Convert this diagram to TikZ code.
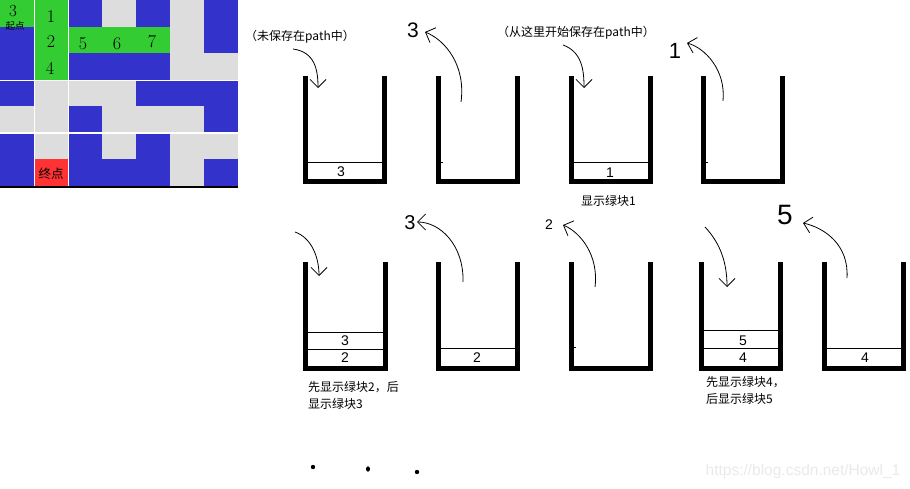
\documentclass[tikz,border=0pt]{standalone}
\usepackage{fontspec}
\newfontfamily\cjk{Noto Sans CJK SC}
\newfontfamily\hand{Liberation Sans}
\usetikzlibrary{arrows.meta}
\definecolor{cg}{HTML}{33CC33}
\definecolor{cb}{HTML}{3333CC}
\definecolor{cw}{HTML}{DDDDDD}
\definecolor{cr}{HTML}{FF3333}
\definecolor{wmark}{HTML}{EAEAEA}
\begin{document}
\begin{tikzpicture}[x=1pt,y=-1pt,
  stk/.style={minimum width=79pt,minimum height=105.5pt,inner sep=0pt,draw=none},
  wall/.style={line width=5pt,line cap=butt,line join=miter},
  slot/.style={line width=0.8pt},
  gnum/.style={inner sep=0pt,font=\fontsize{18}{18}\selectfont},
  hnum/.style={inner sep=0pt,font=\hand\fontsize{14}{14}\selectfont},
  cjklabel/.style={inner sep=0pt,font=\cjk\fontsize{12}{17}\selectfont},
  harrow/.style={line width=0.8pt,-{Straight Barb[length=8pt,width=16pt,line width=0.8pt]}}]
\useasboundingbox (0,0) rectangle (910,489);
\fill[white] (0,0) rectangle (910,489);
% ---- maze grid ----
\foreach \r/\row in {0/{cg,cg,cb,cw,cb,cw,cb},1/{cb,cg,cg,cg,cg,cw,cb},2/{cb,cg,cb,cb,cb,cw,cw},3/{cb,cw,cw,cw,cb,cb,cb},4/{cw,cw,cb,cw,cw,cw,cb},5/{cb,cw,cb,cw,cb,cw,cw},6/{cb,cr,cb,cb,cb,cw,cb}}{
  \foreach \c [count=\i from 0] in \row {
    \fill[\c] (34*\i,26.57*\r) rectangle (34*\i+34,26.57*\r+26.57);
  }
}
\draw[white,line width=1.5pt] (34.7,0) -- (34.7,186) (68.7,0) -- (68.7,186);
\draw[white,line width=1.5pt] (0,80.5) -- (238,80.5) (0,133.2) -- (238,133.2);
\fill[black] (0,186) rectangle (238,188);
\node[inner sep=0pt,font=\fontsize{17}{17}\selectfont] (g3) at (13,11.5) {3};
\node[inner sep=0pt,font=\cjk\fontsize{9.5}{9.5}\selectfont] (start) at (15,26) {起点};
\node[gnum] (g1) at (51,17) {1};
\node[gnum] (g2) at (51,42) {2};
\node[gnum] (g4) at (50,68) {4};
\node[gnum] (g5) at (83,44) {5};
\node[gnum] (g6) at (117,44) {6};
\node[gnum] (g7) at (152,42) {7};
\node[inner sep=0pt,font=\cjk\fontsize{12.5}{12.5}\selectfont] (end) at (51,174) {终点};
% ---- stacks ----
\node[stk] (s1) at (345,128.75) {};
\node[stk] (s2) at (478.25,128.75) {};
\node[stk] (s3) at (611,128.75) {};
\node[stk] (s4) at (743,128.75) {};
\node[stk] (s5) at (345.5,315.25) {};
\node[stk] (s6) at (478,315.25) {};
\node[stk] (s7) at (611,315.25) {};
\node[stk] (s8) at (741,315.25) {};
\node[stk] (s9) at (864,315.25) {};
\foreach \s in {s1,s2,s3,s4,s5,s6,s7,s8,s9}{
  \draw[wall] (\s.north west) -- (\s.south west) -- (\s.south east) -- (\s.north east);
}
% slots
\draw[slot] (307.5,162) -- (382.5,162);
\draw[slot] (574,162) -- (648,162);
\draw[slot] (308,332) -- (383,332);
\draw[slot] (308,349) -- (383,349);
\draw[slot] (441,348) -- (515,348);
\draw[slot] (704,330) -- (778,330);
\draw[slot] (704,348) -- (778,348);
\draw[slot] (827,348) -- (901,348);
% small ticks
\draw[slot] (441,162) -- (443,162);
\draw[slot] (706,162) -- (708,162);
\draw[slot] (574,347) -- (576,347);
% stack contents
\node[hnum] (c1) at (341,172) {3};
\node[hnum] (c3) at (610,173) {1};
\node[hnum] (c5a) at (345,341) {3};
\node[hnum] (c5b) at (345,358) {2};
\node[hnum] (c6) at (477,358) {2};
\node[hnum] (c8a) at (743,341) {5};
\node[hnum] (c8b) at (743,358) {4};
\node[hnum] (c9) at (865,358) {4};
% labels
\node[cjklabel] (l1) at (300,37) {（未保存在path中）};
\node[cjklabel] (l3) at (576,33) {（从这里开始保存在path中）};
\node[cjklabel] (l3b) at (608.5,201) {显示绿块1};
\node[cjklabel,align=left,anchor=north west] (l5) at (308,381) {先显示绿块2，后\\显示绿块3};
\node[cjklabel,align=left,anchor=north west] (l8) at (706,376) {先显示绿块4，\\后显示绿块5};
% handwritten popped values
\node[inner sep=0pt,font=\hand\fontsize{21}{21}\selectfont] (p2) at (413,30) {3};
\node[inner sep=0pt,font=\hand\fontsize{22}{22}\selectfont] (p4) at (675,51) {1};
\node[inner sep=0pt,font=\hand\fontsize{20}{20}\selectfont] (p6) at (410,223) {3};
\node[inner sep=0pt,font=\hand\fontsize{14}{14}\selectfont] (p7) at (549,225) {2};
\node[inner sep=0pt,font=\hand\fontsize{28}{28}\selectfont] (p9) at (785,215) {5};
% arrow ends
\coordinate (a1s) at (293,49);  \coordinate (a1e) at (318,88);
\coordinate (a2s) at (461,102); \coordinate (a2e) at (425,32);
\coordinate (a3s) at (563,45);  \coordinate (a3e) at (584,88);
\coordinate (a4s) at (723,101); \coordinate (a4e) at (687,43);
\coordinate (a5s) at (295,232); \coordinate (a5e) at (319,276);
\coordinate (a6s) at (463,282); \coordinate (a6e) at (417,222);
\coordinate (a7s) at (595,287); \coordinate (a7e) at (563,225);
\coordinate (a8s) at (705,227); \coordinate (a8e) at (727,287);
\coordinate (a9s) at (847,278); \coordinate (a9e) at (803,223);
\draw[harrow] (a1s) .. controls (315,52) and (318,70) .. (a1e);
\draw[harrow] (a2s) .. controls (466,65) and (445,40) .. (a2e);
\draw[harrow] (a3s) .. controls (582,52) and (584,70) .. (a3e);
\draw[harrow] (a4s) .. controls (726,70) and (705,48) .. (a4e);
\draw[harrow] (a5s) .. controls (312,238) and (319,258) .. (a5e);
\draw[harrow] (a6s) .. controls (464,245) and (440,222) .. (a6e);
\draw[harrow] (a7s) .. controls (599,255) and (580,232) .. (a7e);
\draw[harrow] (a8s) .. controls (720,243) and (727,262) .. (a8e);
\draw[harrow] (a9s) .. controls (849,245) and (825,228) .. (a9e);
% dots
\fill (313,467) circle[radius=2.2pt];
\fill (368,469) ellipse[x radius=2pt,y radius=2.7pt];
\fill (417,472) circle[radius=2.2pt];
% watermark
\node[inner sep=0pt,text=wmark,font=\hand\fontsize{15.5}{15.5}\selectfont] (wm) at (803,471) {https://blog.csdn.net/Howl\_1};
\end{tikzpicture}
\end{document}
